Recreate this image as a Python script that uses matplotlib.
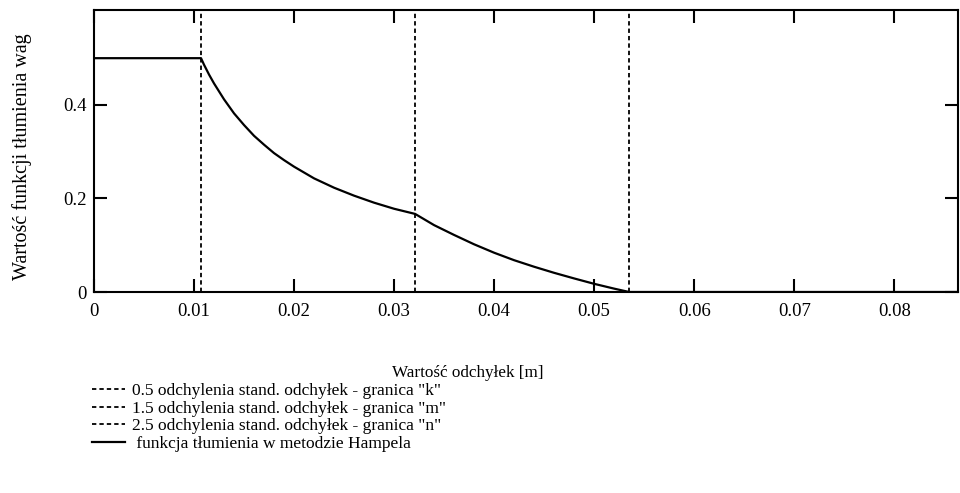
import matplotlib
matplotlib.use('Agg')
import matplotlib.pyplot as plt

# granice k, m, n
k_limit = 0.0107
m_limit = 0.0321
n_limit = 0.0535

# funkcja tłumienia (punkty)
x_vals = [0.0, 0.0107, 0.011, 0.0115, 0.012, 0.013, 0.014, 0.015, 0.016,
          0.017, 0.018, 0.019, 0.020, 0.022, 0.024, 0.026, 0.028, 0.030,
          0.0321, 0.034, 0.036, 0.038, 0.040, 0.042, 0.044, 0.046, 0.048,
          0.050, 0.052, 0.0535, 0.0870]
w_vals = [0.5, 0.5, 0.486, 0.465, 0.446, 0.412, 0.382, 0.357, 0.334,
          0.315, 0.297, 0.282, 0.268, 0.243, 0.223, 0.206, 0.191, 0.178,
          0.167, 0.143, 0.122, 0.102, 0.084, 0.068, 0.054, 0.041, 0.029,
          0.0175, 0.0072, 0.0, 0.0]

x_ticks = [0, 0.01, 0.02, 0.03, 0.04, 0.05, 0.06, 0.07, 0.08]
x_tick_labels = ['0', '0.01', '0.02', '0.03', '0.04', '0.05', '0.06', '0.07', '0.08']
y_ticks = [0, 0.2, 0.4]
y_tick_labels = ['0', '0.2', '0.4']

labels = ['0.5 odchylenia stand. odchyłek - granica "k"',
          '1.5 odchylenia stand. odchyłek - granica "m"',
          '2.5 odchylenia stand. odchyłek - granica "n"',
          ' funkcja tłumienia w metodzie Hampela']

plt.rcParams['font.family'] = ['Liberation Serif', 'DejaVu Serif']

fig = plt.figure(figsize=(9.6, 4.93), dpi=100)
ax = fig.add_axes([0.0979, 0.4077, 0.9003, 0.572])

dash = (2.4, 1.7)
l1 = ax.axvline(k_limit, color='black', lw=1.3, linestyle=(0, dash))
l2 = ax.axvline(m_limit, color='black', lw=1.3, linestyle=(0, dash))
l3 = ax.axvline(n_limit, color='black', lw=1.3, linestyle=(0, dash))
l4, = ax.plot(x_vals, w_vals, color='black', lw=1.6)

ax.set_xlim(0, 0.0864)
ax.set_ylim(0, 0.603)
ax.set_xticks(x_ticks)
ax.set_xticklabels(x_tick_labels)
ax.set_yticks(y_ticks)
ax.set_yticklabels(y_tick_labels)
ax.tick_params(direction='in', length=9.5, width=1.5, top=True, right=True,
               labelsize=13.5)
ax.tick_params(axis='x', pad=8)
ax.tick_params(axis='y', pad=5)
for s in ax.spines.values():
    s.set_linewidth(1.5)

fig.text(0.023, 1 - 157 / 493, 'Wartość funkcji tłumienia wag', rotation=90,
         ha='center', va='center', fontsize=14.5)
fig.text(468 / 960, 1 - 373 / 493, 'Wartość odchyłek [m]',
         ha='center', va='center', fontsize=12.3)

fig.legend([l1, l2, l3, l4], labels, loc='upper left',
           bbox_to_anchor=(0.0958, 1 - 383 / 493), frameon=False,
           fontsize=12.5, handlelength=1.9, handletextpad=0.4,
           labelspacing=0.08, borderaxespad=0, borderpad=0)

fig.savefig('out.png', dpi=100)
